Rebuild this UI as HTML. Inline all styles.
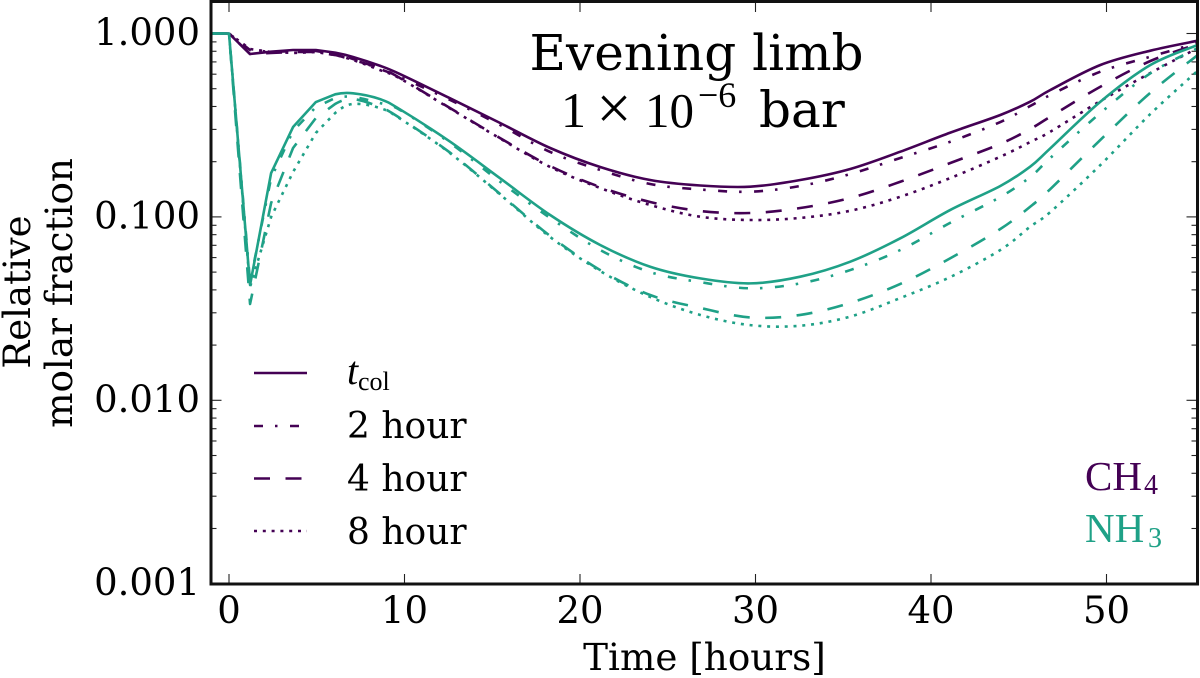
<!DOCTYPE html>
<html lang="en">
<head>
<meta charset="utf-8">
<title>Evening limb relative molar fraction</title>
<style>
html,body{margin:0;padding:0;background:#fff;}
svg{display:block;}
text{font-family:"DejaVu Serif","Liberation Serif",serif;fill:#000;}
.cm{font-family:"Liberation Serif","DejaVu Serif",serif;}
</style>
</head>
<body>
<svg id="chart" xmlns="http://www.w3.org/2000/svg" width="1200" height="678" viewBox="0 0 1200 678">
  <defs><clipPath id="plot-clip"><rect x="211" y="2" width="987" height="582"/></clipPath></defs>
  <rect x="0" y="0" width="1200" height="678" fill="#fff"/>
  <g id="ticks"></g>
  <g id="series" clip-path="url(#plot-clip)"></g>
  <rect x="211" y="1.5" width="986.5" height="582.5" fill="none" stroke="#111" stroke-width="3"/>
  <g id="tick-labels" font-size="37"></g>

  <text x="704.5" y="670" font-size="37.3" text-anchor="middle">Time [hours]</text>
  <text transform="translate(30 292) rotate(-90)" font-size="37" text-anchor="middle">Relative</text>
  <text transform="translate(72 293) rotate(-90)" font-size="37.3" text-anchor="middle">molar fraction</text>

  <text x="696.5" y="70" font-size="50" text-anchor="middle">Evening limb</text>
  <g>
    <text class="cm" x="561" y="127" font-size="50">1</text>
    <text class="cm" x="614" y="129" font-size="62" text-anchor="middle">×</text>
    <text class="cm" x="645" y="127" font-size="49">10</text>
    <text class="cm" x="698" y="107" font-size="36">−6</text>
    <text x="759" y="127" font-size="50">bar</text>
  </g>

  <g id="legend">
    <g>
      <line x1="254" x2="307" y1="373" y2="373" stroke="#440154" stroke-width="2.5"/>
      <text class="cm" x="347" y="384" font-size="40" font-style="italic">t</text>
      <text class="cm" x="358" y="390" font-size="26">col</text>
    </g>
    <g>
      <line x1="254" x2="307" y1="426" y2="426" stroke="#440154" stroke-width="2.5" stroke-dasharray="9 12 2.5 12.5"/>
      <text x="347" y="438" font-size="36">2 hour</text>
    </g>
    <g>
      <line x1="254" x2="307" y1="478.5" y2="478.5" stroke="#440154" stroke-width="2.5" stroke-dasharray="16 15.5"/>
      <text x="347" y="491" font-size="36">4 hour</text>
    </g>
    <g>
      <line x1="254" x2="307" y1="531" y2="531" stroke="#440154" stroke-width="2.5" stroke-dasharray="3 5.8"/>
      <text x="347" y="544" font-size="36">8 hour</text>
    </g>
  </g>

  <g>
    <text class="cm" x="1085" y="490" font-size="41" style="fill:#440154">CH</text>
    <text class="cm" x="1144" y="494" font-size="28" style="fill:#440154">4</text>
  </g>
  <g>
    <text class="cm" x="1085" y="542" font-size="41" style="fill:#1fa187">NH</text>
    <text class="cm" x="1148" y="547" font-size="28" style="fill:#1fa187">3</text>
  </g>
</svg>
<script>
var timeHours = [-1,0,1.2,2.4,3.65,4.95,6.05,7.07,8.6,9.74,12.6,15.45,18.3,21.15,24,26.85,29.7,32.55,35.4,38.25,41.1,43.95,45.65,46.8,49.65,52.5,55.2];

var ch4Tcol = [1,1,.773,.796,.813,.813,.786,.745,.667,.601,.443,.325,.2375,.1871,.1589,.1483,.1461,.1589,.1825,.2267,.288,.3594,.4247,.4918,.6732,.806,.9136];
var ch4Hour2 = [1,1,.813,.793,.803,.803,.773,.726,.640,.579,.434,.317,.226,.1802,.1511,.1411,.1372,.1474,.1713,.2095,.257,.329,.4023,.462,.619,.7473,.888];
var ch4Hour4 = [1,1,.773,.783,.793,.793,.763,.717,.648,.572,.392,.269,.1894,.1455,.1206,.1077,.105,.1118,.1268,.1555,.1967,.25,.3015,.3518,.5126,.708,.8766];
var ch4Hour8 = [1,1,.823,.793,.783,.793,.763,.717,.632,.5684,.39,.2675,.1871,.1437,.1161,.1002,.0962,.0987,.108,.1288,.1629,.2129,.256,.2914,.4285,.609,.833];

var nh3Tcol = [1,1,.0425,.1735,.309,.423,.466,.472,.439,.386,.257,.1623,.1024,.0703,.0535,.0462,.0434,.0472,.057,.0764,.1091,.1474,.1878,.2366,.4247,.6732,.866];
var nh3Hour2 = [1,1,.0441,.1629,.294,.397,.445,.45,.418,.383,.253,.1555,.0987,.066,.05,.0441,.0408,.0434,.0513,.066,.0929,.1284,.165,.2095,.3686,.6067,.833];
var nh3Hour4 = [1,1,.0335,.1191,.2375,.346,.413,.439,.397,.346,.2239,.1333,.0787,.0513,.0375,.0319,.0283,.0292,.034,.0431,.0595,.0859,.1136,.1419,.263,.4755,.763];
var nh3Hour8 = [1,1,.0415,.0999,.1757,.287,.3686,.413,.392,.3439,.2225,.1324,.0777,.0507,.0366,.0292,.0257,.0255,.0286,.0361,.047,.066,.0884,.1063,.1918,.364,.6268];

var xTickValues = [0,10,20,30,40,50];
var xTickLabels = ["0","10","20","30","40","50"];
var yTickValues = [1,0.1,0.01,0.001];
var yTickLabels = ["1.000","0.100","0.010","0.001"];
var yMinorFactors = [2,3,4,5,6,7,8,9];
var smoothFromHour = 6;

function xPos(hour){ return 229 + hour * 17.55; }
function yPos(value){ return 33.5 - Math.log10(value) * 183.4; }

var NS = 'http://www.w3.org/2000/svg';
var tickGroup = document.getElementById('ticks');
var labelGroup = document.getElementById('tick-labels');
var seriesGroup = document.getElementById('series');

function addTick(x1, y1, x2, y2, name){
  var t = document.createElementNS(NS, 'line');
  t.setAttribute('x1', x1);
  t.setAttribute('y1', y1);
  t.setAttribute('x2', x2);
  t.setAttribute('y2', y2);
  t.setAttribute('stroke', '#222');
  t.setAttribute('stroke-width', '1.1');
  
  
  tickGroup.appendChild(t);
}

function addLabel(x, y, anchor, content, name){
  var t = document.createElementNS(NS, 'text');
  t.setAttribute('x', x);
  t.setAttribute('y', y);
  t.setAttribute('text-anchor', anchor);
  t.textContent = content;
  
  
  labelGroup.appendChild(t);
}

xTickValues.forEach(function(v, i){
  var x = xPos(v);
  addTick(x, 584, x, 574, 'x-tick-bottom');
  addTick(x, 2, x, 12, 'x-tick-top');
  addLabel(x, 623, 'middle', xTickLabels[i], 'x-tick-label');
});

yTickValues.forEach(function(v, i){
  var y = yPos(v);
  addTick(211, y, 221.5, y, 'y-tick-left');
  addTick(1197, y, 1186.5, y, 'y-tick-right');
  addLabel(200, y + 11.5, 'end', yTickLabels[i], 'y-tick-label');
  if (i < yTickValues.length - 1) {
    yMinorFactors.forEach(function(f){
      var ym = yPos(v * f / 10);
      addTick(211, ym, 216.5, ym, 'y-minor-tick-left');
      addTick(1197, ym, 1191.5, ym, 'y-minor-tick-right');
    });
  }
});

function addSeries(values, color, dash, name){
  var pts = values.map(function(v, i){ return [xPos(timeHours[i]), yPos(v)]; });
  var d = 'M' + pts[0][0].toFixed(2) + ' ' + pts[0][1].toFixed(2);
  for (var i = 1; i < pts.length; i++) {
    var p1 = pts[i];
    if (timeHours[i - 1] < smoothFromHour) {
      d += ' L' + p1[0].toFixed(2) + ' ' + p1[1].toFixed(2);
    } else {
      var p0 = pts[i - 1];
      var pm = pts[Math.max(i - 2, 0)];
      var pn = pts[Math.min(i + 1, pts.length - 1)];
      var c1x = p0[0] + (p1[0] - pm[0]) / 6;
      var c1y = p0[1] + (p1[1] - pm[1]) / 6;
      var c2x = p1[0] - (pn[0] - p0[0]) / 6;
      var c2y = p1[1] - (pn[1] - p0[1]) / 6;
      d += ' C' + c1x.toFixed(2) + ' ' + c1y.toFixed(2) + ' ' + c2x.toFixed(2) + ' ' + c2y.toFixed(2) + ' ' + p1[0].toFixed(2) + ' ' + p1[1].toFixed(2);
    }
  }
  var p = document.createElementNS(NS, 'path');
  p.setAttribute('d', d);
  p.setAttribute('fill', 'none');
  p.setAttribute('stroke', color);
  p.setAttribute('stroke-width', '2.6');
  p.setAttribute('stroke-linejoin', 'round');
  if (dash) p.setAttribute('stroke-dasharray', dash);
  
  
  seriesGroup.appendChild(p);
}

var purple = '#440154';
var teal = '#1fa187';
addSeries(ch4Hour8, purple, '3 5.8', 'ch4-8-hour-line');
addSeries(ch4Hour4, purple, '16 15.5', 'ch4-4-hour-line');
addSeries(ch4Hour2, purple, '9 12 2.5 12.5', 'ch4-2-hour-line');
addSeries(ch4Tcol, purple, '', 'ch4-tcol-line');
addSeries(nh3Hour8, teal, '3 5.8', 'nh3-8-hour-line');
addSeries(nh3Hour4, teal, '16 15.5', 'nh3-4-hour-line');
addSeries(nh3Hour2, teal, '9 12 2.5 12.5', 'nh3-2-hour-line');
addSeries(nh3Tcol, teal, '', 'nh3-tcol-line');
</script>
</body>
</html>
